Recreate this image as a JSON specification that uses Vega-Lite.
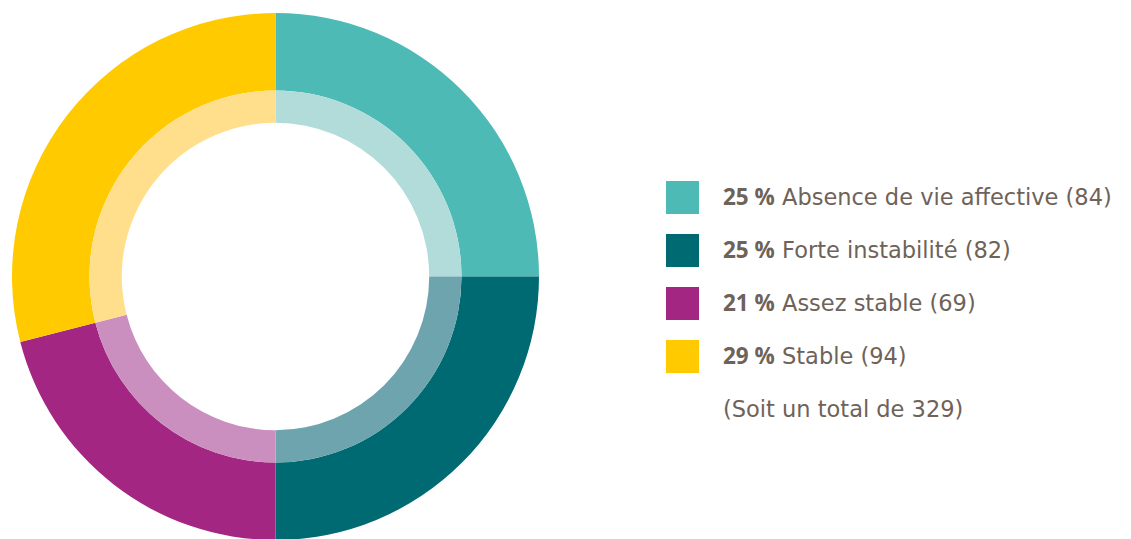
{
  "$schema": "https://vega.github.io/schema/vega-lite/v6.json",
  "padding": 0,
  "background": "white",
  "spacing": 115,
  "config": {"view": {"stroke": null}, "font": "DejaVu Sans"},
  "datasets": {
    "cats": [
      {"cat": "Absence de vie affective", "pct": 25, "n": 84, "order": 0, "pctLabel": "25 %", "label": "Absence de vie affective (84)"},
      {"cat": "Forte instabilité", "pct": 25, "n": 82, "order": 1, "pctLabel": "25 %", "label": "Forte instabilité (82)"},
      {"cat": "Assez stable", "pct": 21, "n": 69, "order": 2, "pctLabel": "21 %", "label": "Assez stable (69)"},
      {"cat": "Stable", "pct": 29, "n": 94, "order": 3, "pctLabel": "29 %", "label": "Stable (94)"}
    ],
    "total": [
      {"order": 4, "label": "(Soit un total de 329)"}
    ]
  },
  "hconcat": [
    {
      "width": 551,
      "height": 553,
      "data": {"name": "cats"},
      "layer": [
        {
          "mark": {"type": "arc", "radius": 263.5, "radius2": 186, "stroke": null},
          "encoding": {
            "theta": {"field": "pct", "type": "quantitative", "stack": true},
            "order": {"field": "order", "type": "quantitative"},
            "color": {
              "field": "cat", "type": "nominal", "legend": null,
              "scale": {
                "domain": ["Absence de vie affective", "Forte instabilité", "Assez stable", "Stable"],
                "range": ["#4DBAB6", "#006A72", "#A42683", "#FFCA00"]
              }
            }
          }
        },
        {
          "mark": {"type": "arc", "radius": 186, "radius2": 153.7, "stroke": null},
          "encoding": {
            "theta": {"field": "pct", "type": "quantitative", "stack": true},
            "order": {"field": "order", "type": "quantitative"},
            "color": {
              "field": "cat", "type": "nominal", "legend": null,
              "scale": {
                "domain": ["Absence de vie affective", "Forte instabilité", "Assez stable", "Stable"],
                "range": ["#B2DCDA", "#6DA4AD", "#CA8EBF", "#FFDF8B"]
              }
            }
          }
        }
      ],
      "resolve": {"scale": {"color": "independent"}}
    },
    {
      "width": 465,
      "height": 553,
      "layer": [
        {
          "data": {"name": "cats"},
          "mark": {"type": "square", "size": 1089, "opacity": 1, "filled": true},
          "encoding": {
            "x": {"value": 16.5},
            "y": {"field": "order", "type": "quantitative", "axis": null,
                  "scale": {"domain": [-3.7264, 6.7076], "reverse": true, "nice": false, "zero": false}},
            "color": {
              "field": "cat", "type": "nominal", "legend": null,
              "scale": {
                "domain": ["Absence de vie affective", "Forte instabilité", "Assez stable", "Stable"],
                "range": ["#4DBAB6", "#006A72", "#A42683", "#FFCA00"]
              }
            }
          }
        },
        {
          "data": {"name": "cats"},
          "mark": {"type": "text", "align": "left", "baseline": "middle", "dy": 1, "font": "Open Sans", "fontSize": 22.5, "fontWeight": 700, "color": "#6E6259"},
          "encoding": {
            "x": {"value": 57},
            "y": {"field": "order", "type": "quantitative", "axis": null},
            "text": {"field": "pctLabel"}
          }
        },
        {
          "data": {"name": "cats"},
          "mark": {"type": "text", "align": "left", "baseline": "middle", "dy": 1, "fontSize": 22.5, "fontWeight": "normal", "color": "#6E6259"},
          "encoding": {
            "x": {"value": 116},
            "y": {"field": "order", "type": "quantitative", "axis": null},
            "text": {"field": "label"}
          }
        },
        {
          "data": {"name": "total"},
          "mark": {"type": "text", "align": "left", "baseline": "middle", "dy": 1, "fontSize": 22.5, "fontWeight": "normal", "color": "#6E6259"},
          "encoding": {
            "x": {"value": 57},
            "y": {"field": "order", "type": "quantitative", "axis": null},
            "text": {"field": "label"}
          }
        }
      ]
    }
  ]
}
